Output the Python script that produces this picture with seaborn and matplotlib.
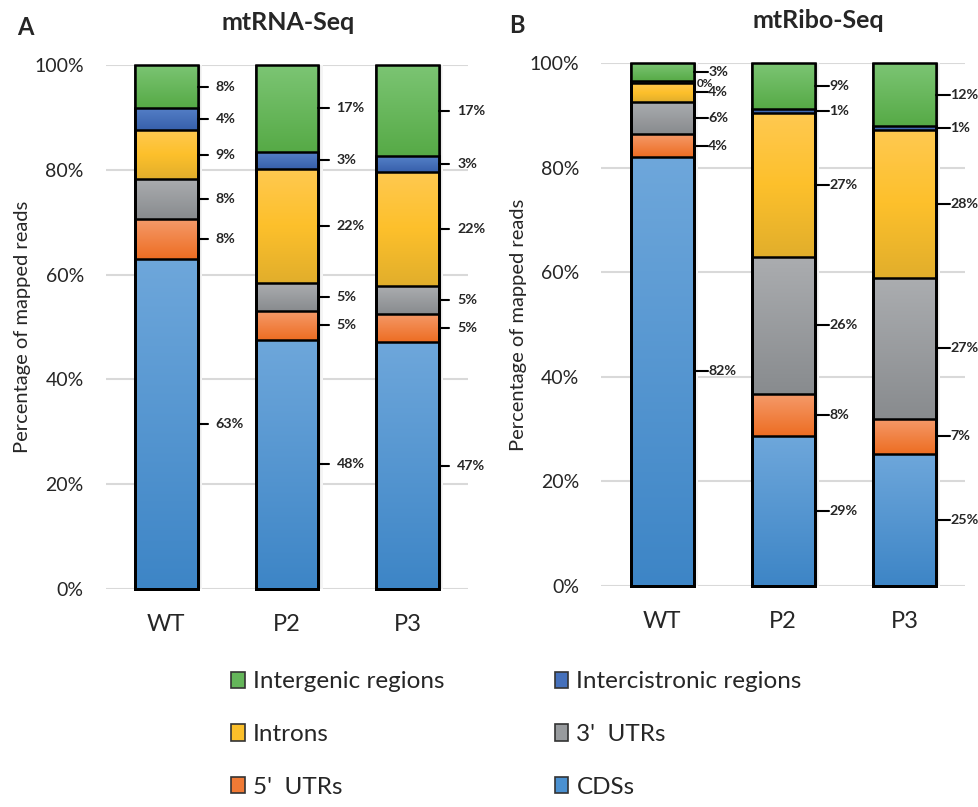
import matplotlib
matplotlib.use('Agg')
import matplotlib.pyplot as plt
import numpy as np
import pandas as pd
import seaborn as sns
from matplotlib.colors import LinearSegmentedColormap
from matplotlib.patches import Patch, Rectangle

# Data, stacked bottom -> top
samples = ['WT', 'P2', 'P3']
regions = ['CDSs', "5'  UTRs", "3'  UTRs", 'Introns',
           'Intercistronic regions', 'Intergenic regions']

rna_cds = [63.0, 47.6, 47.1]
rna_utr5 = [7.6, 5.4, 5.4]
rna_utr3 = [7.7, 5.3, 5.3]
rna_introns = [9.2, 21.9, 21.8]
rna_intercistronic = [4.2, 3.2, 3.0]
rna_intergenic = [8.3, 16.6, 17.4]

ribo_cds = [82.0, 28.7, 25.3]
ribo_utr5 = [4.4, 7.9, 6.7]
ribo_utr3 = [6.2, 26.4, 26.9]
ribo_introns = [3.6, 27.4, 28.4]
ribo_intercistronic = [0.4, 0.8, 0.7]
ribo_intergenic = [3.4, 8.8, 12.0]

df_rna = pd.DataFrame(dict(zip(regions, [rna_cds, rna_utr5, rna_utr3, rna_introns,
                                         rna_intercistronic, rna_intergenic])), index=samples)
df_ribo = pd.DataFrame(dict(zip(regions, [ribo_cds, ribo_utr5, ribo_utr3, ribo_introns,
                                          ribo_intercistronic, ribo_intergenic])), index=samples)

# gradient colours (bottom ... top) and flat legend colour
grads = {
    'CDSs': ['#3d85c6', '#6ea7db'],
    "5'  UTRs": ['#ed6d22', '#f59a6a'],
    "3'  UTRs": ['#888b8e', '#abadb0'],
    'Introns': ['#e1ae2c', '#fdc02b', '#ffc951'],
    'Intercistronic regions': ['#3760ab', '#5580c8'],
    'Intergenic regions': ['#56aa46', '#7cc574'],
}
flat = {
    'CDSs': '#4a90d0', "5'  UTRs": '#f07a35', "3'  UTRs": '#989b9e',
    'Introns': '#fbbf2a', 'Intercistronic regions': '#4570bb',
    'Intergenic regions': '#64b55a',
}

sns.set_style('white')
plt.rcParams['font.family'] = ['Lato', 'DejaVu Sans']

BAR_W = 0.52
grad_img = np.linspace(0, 1, 256).reshape(-1, 1)


def draw_panel(ax, df, line_len, text_off):
    cum = df[regions].cumsum(axis=1)
    data = cum.reset_index().rename(columns={'index': 'sample'})

    # cumulative bars, tallest first so lower layers sit on top
    for reg in reversed(regions):
        sns.barplot(data=data, x='sample', y=reg, color=flat[reg], saturation=1,
                    width=BAR_W, edgecolor='black', linewidth=1.8, ax=ax, zorder=2)

    # soft shadow on the right of each bar
    for p in ax.patches[:len(samples)]:
        x1 = p.get_x() + p.get_width()
        for j, c in enumerate(['#dcdcdc', '#ebebeb', '#f5f5f5']):
            ax.add_patch(Rectangle((x1 + j * 0.012, 0), 0.012, p.get_height(),
                                   color=c, lw=0, zorder=1.5))

    # gradient fill per segment
    for k, reg in enumerate(regions):
        cmap = LinearSegmentedColormap.from_list(reg, grads[reg])
        for i, s in enumerate(samples):
            lo = cum.iloc[i, k - 1] if k > 0 else 0
            hi = cum.iloc[i, k]
            ax.imshow(grad_img, extent=[i - BAR_W / 2, i + BAR_W / 2, lo, hi],
                      origin='lower', aspect='auto', cmap=cmap, zorder=2.5,
                      interpolation='bilinear')

    # outlines on top
    for p in [q for q in ax.patches if q.get_zorder() == 2]:
        ax.add_patch(Rectangle(p.get_xy(), p.get_width(), p.get_height(), fill=False,
                               ec='black', lw=1.8, zorder=3, clip_on=False))

    # value labels with leader lines
    for k, reg in enumerate(regions):
        for i, s in enumerate(samples):
            val = df.loc[s, reg]
            lo = cum.iloc[i, k - 1] if k > 0 else 0
            mid = lo + val / 2
            xr = i + BAR_W / 2
            lab = f'{val:.0f}%'
            if lab == '0%':
                ax.text(xr + 0.03, mid - 0.2, lab, ha='left', va='center',
                        fontsize=8.5, fontweight='bold')
                continue
            ax.plot([xr, xr + line_len], [mid, mid], color='black', lw=1.5,
                    zorder=3, clip_on=False)
            ax.text(xr + text_off, mid, lab, ha='left', va='center',
                    fontsize=10.3, fontweight='bold')

    ax.set_xlim(-0.5, 2.5)
    ax.set_ylim(0, 100)
    ax.set_yticks(range(0, 101, 20))
    ax.set_yticklabels([f'{v}%' for v in range(0, 101, 20)])
    ax.yaxis.grid(True, color='#d9d9d9', lw=1.5)
    ax.set_axisbelow(True)
    for sp in ax.spines.values():
        sp.set_visible(False)
    ax.tick_params(axis='y', length=0, pad=16, labelsize=14)
    ax.tick_params(axis='x', length=0, pad=18, labelsize=17)
    ax.set_xlabel('')
    ax.set_ylabel('Percentage of mapped reads', fontsize=14.5)


fig = plt.figure(figsize=(9.79, 8.07), dpi=100)
ax_a = fig.add_axes([0.1083, 0.2701, 0.3697, 0.6494])
ax_b = fig.add_axes([0.6144, 0.2742, 0.3713, 0.6475])

draw_panel(ax_a, df_rna, line_len=0.085, text_off=0.15)
draw_panel(ax_b, df_ribo, line_len=0.115, text_off=0.12)
ax_a.yaxis.set_label_coords(-0.207, 0.5)
ax_b.yaxis.set_label_coords(-0.205, 0.5)

fig.text(0.294, 0.9727, 'mtRNA-Seq', ha='center', va='center', fontsize=18, fontweight='bold')
fig.text(0.836, 0.9752, 'mtRibo-Seq', ha='center', va='center', fontsize=18, fontweight='bold')
fig.text(0.026, 0.966, 'A', ha='center', va='center', fontsize=17, fontweight='bold')
fig.text(0.528, 0.969, 'B', ha='center', va='center', fontsize=17, fontweight='bold')

# legend, filled column-wise: reorder to read row-wise as in the figure
leg_order = ['Intergenic regions', 'Introns', "5'  UTRs",
             'Intercistronic regions', "3'  UTRs", 'CDSs']
handles = [Patch(facecolor=flat[r], edgecolor='#333333', lw=1.2) for r in leg_order]
fig.legend(handles, leg_order, loc='upper left', bbox_to_anchor=(0.236, 0.168),
           ncol=2, frameon=False, fontsize=17.5, handlelength=0.56, handleheight=0.67,
           handletextpad=0.33, columnspacing=4.55, labelspacing=1.3, borderpad=0,
           borderaxespad=0)

fig.savefig('out.png', dpi=100)
